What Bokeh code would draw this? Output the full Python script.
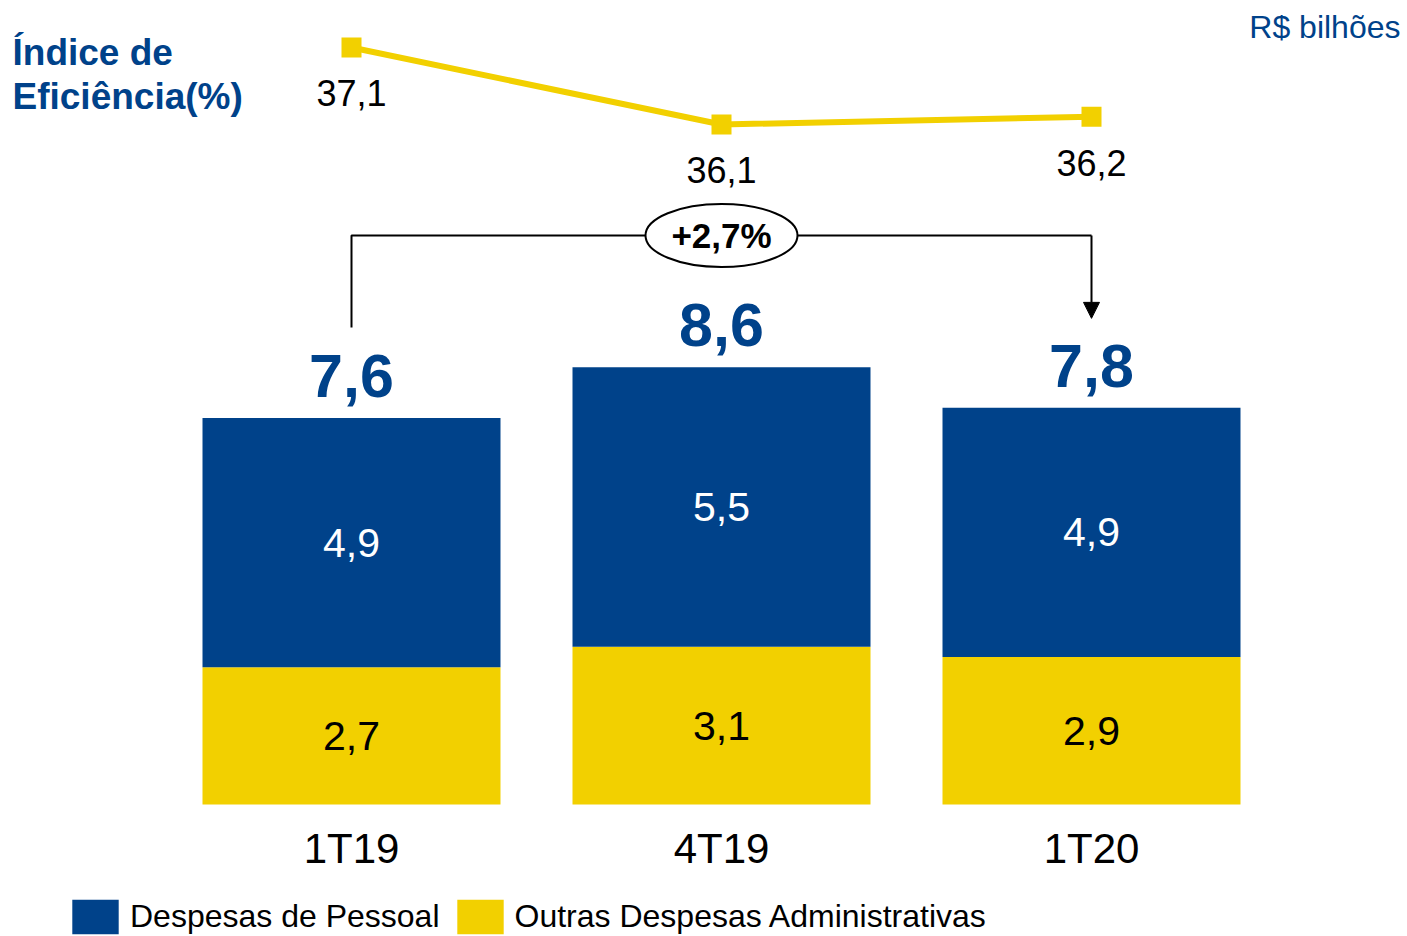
from bokeh.plotting import figure
from bokeh.models import (Range1d, ColumnDataSource, Label, Legend, LegendItem,
                          Arrow, NormalHead)
from bokeh.core.properties import value
from bokeh.embed import file_html
from bokeh.resources import INLINE

# ---------------- data ----------------
periods = ["1T19", "4T19", "1T20"]
pessoal = [4.9, 5.5, 4.9]          # Despesas de Pessoal
outras = [2.7, 3.1, 2.9]           # Outras Despesas Administrativas
totals = [7.6, 8.6, 7.8]
pessoal_lbl = ["4,9", "5,5", "4,9"]
outras_lbl = ["2,7", "3,1", "2,9"]
totals_lbl = ["7,6", "8,6", "7,8"]
eficiencia = [37.1, 36.1, 36.2]
eficiencia_lbl = ["37,1", "36,1", "36,2"]
variacao_lbl = "+2,7%"

BLUE = "#00428A"
YELLOW = "#F2D000"
FONT = "Liberation Sans"

W, H = 1407, 936
xs = list(range(len(periods)))

p = figure(width=W, height=H, output_backend="svg", toolbar_location=None,
           x_range=Range1d(-0.94865, 2.85405), y_range=Range1d(-2.5959, 15.8112),
           x_axis_location=None, y_axis_location=None, min_border=0,
           background_fill_color="white", border_fill_color="white")
p.outline_line_color = None
p.xgrid.visible = False
p.ygrid.visible = False
p.extra_y_ranges = {"eff": Range1d(25.5545, 37.7103)}

src = ColumnDataSource(dict(
    x=xs, period=periods, pessoal=pessoal, outras=outras, total=totals,
    bottom_mid=[o / 2 for o in outras],
    top_mid=[o + pe / 2 for o, pe in zip(outras, pessoal)],
    pessoal_lbl=pessoal_lbl, outras_lbl=outras_lbl, totals_lbl=totals_lbl,
    zero=[0] * len(xs),
))

r_out, r_pes = p.vbar_stack(["outras", "pessoal"], x="x", width=0.8054, source=src,
                            color=[YELLOW, BLUE], line_color=None)

# segment labels
p.text(x="x", y="bottom_mid", text="outras_lbl", source=src, text_align="center",
       text_baseline="middle", text_font=value(FONT), text_font_size="41px",
       text_color="black")
p.text(x="x", y="top_mid", text="pessoal_lbl", source=src, text_align="center",
       text_baseline="middle", text_font=value(FONT), text_font_size="41px",
       text_color="white")
# totals
p.text(x="x", y="total", text="totals_lbl", source=src, text_align="center",
       text_baseline="middle", y_offset=-42, text_font=value(FONT),
       text_font_size="61px", text_font_style="bold", text_color=BLUE)
# category labels
p.text(x="x", y="zero", text="period", source=src, text_align="center",
       text_baseline="middle", y_offset=44, text_font=value(FONT),
       text_font_size="42px", text_color="black")

# efficiency line
esrc = ColumnDataSource(dict(x=xs, y=eficiencia, lbl=eficiencia_lbl))
p.line(x="x", y="y", source=esrc, y_range_name="eff", line_color=YELLOW,
       line_width=6)
p.scatter(x="x", y="y", source=esrc, y_range_name="eff", marker="square",
          size=20, fill_color=YELLOW, line_color=None)
p.text(x="x", y="y", text="lbl", source=esrc, y_range_name="eff",
       text_align="center", text_baseline="middle", y_offset=46,
       text_font=value(FONT), text_font_size="36px", text_color="black")

# variation bracket 1T19 -> 1T20
y_start = totals[0] + 1.78
y_top = max(totals) + 2.59
y_end = totals[-1] + 1.76
p.line(x=[xs[0], xs[0], xs[-1], xs[-1]], y=[y_start, y_top, y_top, y_top],
       line_color="black", line_width=2)
p.add_layout(Arrow(end=NormalHead(size=16, fill_color="black", line_color="black"),
                   x_start=xs[-1], y_start=y_top, x_end=xs[-1], y_end=y_end,
                   line_color="black", line_width=2))
p.ellipse(x=[1], y=[y_top], width=152, height=63, width_units="screen",
          height_units="screen", fill_color="white", line_color="black",
          line_width=2)
p.text(x=[1], y=[y_top], text=[variacao_lbl], text_align="center",
       text_baseline="middle", text_font=value(FONT), text_font_size="35px",
       text_font_style="bold", text_color="black")

# titles
p.add_layout(Label(x=12, y=H - 52, x_units="screen", y_units="screen",
                   text="Índice de", text_font=FONT, text_font_size="37px",
                   text_font_style="bold", text_color=BLUE,
                   text_baseline="middle"))
p.add_layout(Label(x=12, y=H - 96, x_units="screen", y_units="screen",
                   text="Eficiência(%)", text_font=FONT, text_font_size="37px",
                   text_font_style="bold", text_color=BLUE,
                   text_baseline="middle"))
p.add_layout(Label(x=1400, y=H - 26, x_units="screen", y_units="screen",
                   text="R$ bilhões", text_font=FONT, text_font_size="32px",
                   text_color=BLUE, text_align="right", text_baseline="middle"))

legend = Legend(items=[LegendItem(label="Despesas de Pessoal", renderers=[r_pes]),
                       LegendItem(label="Outras Despesas Administrativas",
                                  renderers=[r_out])],
                orientation="horizontal", location=(66, -2), padding=0, margin=0,
                spacing=11, glyph_width=58, glyph_height=43, label_standoff=6,
                label_height=43,
                label_text_font=FONT, label_text_font_size="32px",
                label_text_color="black", border_line_color=None,
                background_fill_alpha=0)
p.add_layout(legend, "center")

open("out.html", "w").write(file_html(p, INLINE))
